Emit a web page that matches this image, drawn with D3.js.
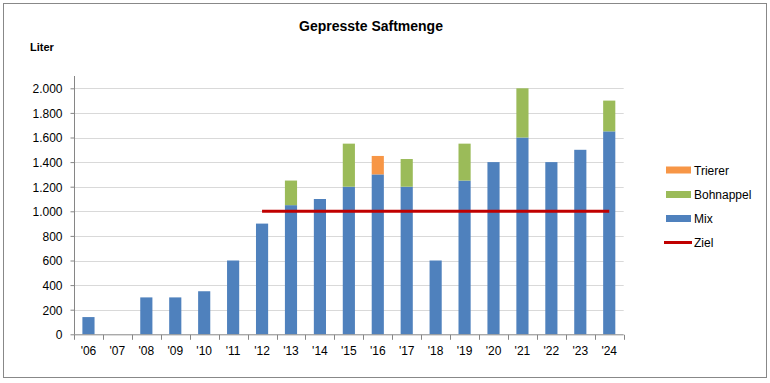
<!DOCTYPE html>
<html><head><meta charset="utf-8">
<script src="https://cdn.jsdelivr.net/npm/d3@7"></script>
<style>body{margin:0;background:#fff}svg{display:block;font-family:"Liberation Sans",Arial,sans-serif}</style>
</head><body><svg id="c" width="770" height="383"></svg>
<script>
const years = ["'06","'07","'08","'09","'10","'11","'12","'13","'14","'15","'16","'17","'18","'19","'20","'21","'22","'23","'24"];
const mix       = [140,0,300,300,350,600,900,1050,1100,1200,1300,1200,600,1250,1400,1600,1400,1500,1650];
const bohnappel = [0,0,0,0,0,0,0,200,0,350,0,225,0,300,0,400,0,0,250];
const trierer   = [0,0,0,0,0,0,0,0,0,0,150,0,0,0,0,0,0,0,0];
const zielYears = ["'12","'24"];
const zielValue = 1000;
const yTicks = [0,200,400,600,800,1000,1200,1400,1600,1800,2000];
const seriesNames = ["Mix","Bohnappel","Trierer"];
const colors = {Mix:"#4F81BD",Bohnappel:"#9BBB59",Trierer:"#F79646",Ziel:"#C00000"};

const svg = d3.select("#c");
svg.append("rect").attr("x",3.5).attr("y",3.5).attr("width",763).attr("height",374).attr("fill","#fff").attr("stroke","#888").attr("stroke-width",1);

const L=74, R=623.7, T=76, B=334.3;
const x = d3.scaleBand().domain(years).range([L,R]).paddingInner(0.58).paddingOuter(0.29);
const xb = d3.scaleBand().domain(years).range([L,R]);
const y = d3.scaleLinear().domain([0,2100]).range([B,T]);

// grid
svg.append("g").selectAll("line").data(yTicks.filter(d=>d>0)).join("line")
  .attr("x1",L).attr("x2",R).attr("y1",d=>Math.round(y(d))+0.5).attr("y2",d=>Math.round(y(d))+0.5)
  .attr("stroke","#D9D9D9");

// stacks
const table = years.map((yr,i)=>({year:yr,Mix:mix[i],Bohnappel:bohnappel[i],Trierer:trierer[i]}));
const stack = d3.stack().keys(seriesNames)(table);
svg.append("g").selectAll("g").data(stack).join("g").attr("fill",d=>colors[d.key])
  .selectAll("rect").data(d=>d).join("rect")
  .attr("x",d=>x(d.data.year)).attr("width",x.bandwidth())
  .attr("y",d=>y(d[1])).attr("height",d=>y(d[0])-y(d[1]));

// axes
const yAxis = d3.axisLeft(y).tickValues(yTicks).tickSize(4).tickFormat(d=>d3.format(",")(d).replace(/,/g,"."));
const gy = svg.append("g").attr("transform",`translate(${L+0.5},0)`).call(yAxis);
gy.select(".domain").attr("d",`M0,${T}V${B}`).attr("stroke","#868686");
gy.selectAll(".tick line").attr("stroke","#868686");
gy.selectAll("text").attr("font-size",12).attr("fill","#000").attr("x",-12).attr("dy","0.36em");

const gx = svg.append("g").attr("transform",`translate(0,${B+0.5})`);
gx.append("line").attr("x1",L).attr("x2",R).attr("stroke","#868686");
const bounds = years.map(d=>xb(d)).concat([R]);
gx.selectAll("line.t").data(bounds).join("line").attr("class","t")
  .attr("x1",d=>Math.round(d)+0.5).attr("x2",d=>Math.round(d)+0.5).attr("y1",0).attr("y2",5).attr("stroke","#868686");
gx.selectAll("text").data(years).join("text")
  .attr("x",d=>xb(d)+xb.bandwidth()/2).attr("y",20.5).attr("text-anchor","middle")
  .attr("font-size",12).text(d=>d);

// Ziel line
svg.append("line")
  .attr("x1",xb(zielYears[0])+xb.bandwidth()/2).attr("x2",xb(zielYears[1])+xb.bandwidth()/2)
  .attr("y1",y(zielValue)).attr("y2",y(zielValue)).attr("stroke",colors.Ziel).attr("stroke-width",3);

// titles
svg.append("text").attr("x",371).attr("y",31).attr("text-anchor","middle").attr("font-weight","bold").attr("font-size",14).text("Gepresste Saftmenge");
svg.append("text").attr("x",30).attr("y",51).attr("font-weight","bold").attr("font-size",11).text("Liter");

// legend
const leg = [{k:"Trierer",y:170},{k:"Bohnappel",y:194.5},{k:"Mix",y:218.5},{k:"Ziel",y:242.5}];
const lg = svg.append("g");
leg.forEach(d=>{
  if(d.k==="Ziel") lg.append("line").attr("x1",664).attr("x2",692).attr("y1",d.y).attr("y2",d.y).attr("stroke",colors.Ziel).attr("stroke-width",3);
  else lg.append("rect").attr("x",666).attr("y",d.y-3.5).attr("width",25).attr("height",7).attr("fill",colors[d.k]);
  lg.append("text").attr("x",694).attr("y",d.y+4.5).attr("font-size",12).text(d.k);
});
</script></body></html>
